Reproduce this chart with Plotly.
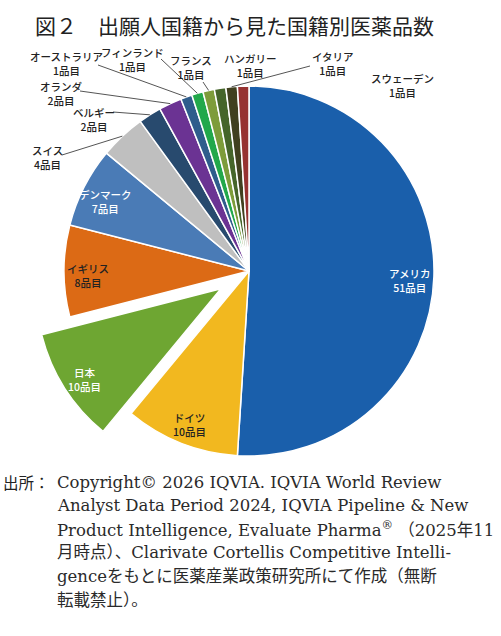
import math
import plotly.graph_objects as go

countries = ["アメリカ", "ドイツ", "日本", "イギリス", "デンマーク", "スイス", "ベルギー",
             "オランダ", "オーストラリア", "フィンランド", "フランス", "ハンガリー", "イタリア", "スウェーデン"]
counts = [51, 10, 10, 8, 7, 4, 2, 2, 1, 1, 1, 1, 1, 1]
pulls = [0, 0, 0.18, 0, 0, 0, 0, 0, 0, 0, 0, 0, 0, 0]

colors = ["#1a5fab", "#f2b81f", "#6ea632", "#dc6a15", "#4a7bb6", "#bfbfbf", "#284a6e",
          "#6b3393", "#2f5d8c", "#22a84b", "#7d9c3a", "#45652a", "#40401f", "#963231"]
inside_font_colors = ["white", "#222", "white", "#222", "white"]

title = "図２　出願人国籍から見た国籍別医薬品数"
source_head = "出所："
source_lines = [
    "Copyright© 2026 IQVIA. IQVIA World Review",
    "Analyst Data Period 2024, IQVIA Pipeline &amp; New",
    "Product Intelligence, Evaluate Pharma<sup>®</sup> （2025年11",
    "月時点）、Clarivate Cortellis Competitive Intelli-",
    "genceをもとに医薬産業政策研究所にて作成（無断",
    "転載禁止）。",
]

W, H = 501, 636
cx, cy, R = 249, 271, 185
half = R * (1 + max(pulls))

# label placement for the small slices: (label x, label y, leader start or None)
outside_pos = {
    "スイス": (47, 157, (62, 155)),
    "ベルギー": (94, 120, (113, 112)),
    "オランダ": (61, 93, (80, 91)),
    "オーストラリア": (66, 64, (98, 65)),
    "フィンランド": (132, 60, (161, 59)),
    "フランス": (191, 67, (203, 82)),
    "ハンガリー": (250, 65, None),
    "イタリア": (333, 64, (310, 66)),
    "スウェーデン": (402, 86, None),
}
label_font = dict(size=10.5, family="Noto Sans CJK JP", weight=500)


def px(x, y):
    return x / W, 1 - y / H


def note(x, y, text, font, xanchor="center"):
    fx, fy = px(x, y)
    return dict(x=fx, y=fy, xref="paper", yref="paper", text=text, showarrow=False,
                xanchor=xanchor, yanchor="middle", font=font)


fig = go.Figure(go.Pie(
    labels=countries,
    values=counts,
    pull=pulls,
    sort=False,
    direction="clockwise",
    rotation=0,
    textinfo="none",
    hoverinfo="label+value",
    marker=dict(colors=colors, line=dict(color="white", width=1.5)),
    domain=dict(x=[(cx - half) / W, (cx + half) / W], y=[1 - (cy + half) / H, 1 - (cy - half) / H]),
    showlegend=False,
))

total = sum(counts)
cum = 0
annotations = []
shapes = []
for i, (name, v) in enumerate(zip(countries, counts)):
    mid = 2 * math.pi * (cum + v / 2) / total
    cum += v
    s, c = math.sin(mid), math.cos(mid)
    ox, oy = cx + pulls[i] * R * s, cy - pulls[i] * R * c
    text = f"{name}<br>{v}品目"
    if name in outside_pos:
        lx, ly, start = outside_pos[name]
        annotations.append(note(lx, ly, text, dict(label_font, color="#222")))
        if start:
            x0, y0 = px(*start)
            x1, y1 = px(ox + R * s, oy - R * c)
            shapes.append(dict(type="line", xref="paper", yref="paper", x0=x0, y0=y0, x1=x1, y1=y1,
                               line=dict(color="#555", width=1)))
    else:
        annotations.append(note(ox + 0.87 * R * s, oy - 0.87 * R * c + 4, text,
                                dict(label_font, color=inside_font_colors[i])))

annotations.append(note(33, 25, title, dict(size=21, color="#222", family="Noto Sans CJK JP"), "left"))
annotations.append(note(1, 482, source_head, dict(size=15.5, color="#222", family="Noto Sans CJK JP"), "left"))
for k, line in enumerate(source_lines):
    annotations.append(note(55, 482 + 23.6 * k, line,
                            dict(size=16.5, color="#2a2a2a", family="DejaVu Serif, Noto Sans CJK JP"), "left"))

fig.update_layout(
    width=W, height=H,
    margin=dict(l=0, r=0, t=0, b=0),
    paper_bgcolor="white",
    plot_bgcolor="white",
    annotations=annotations,
    shapes=shapes,
)
fig.write_html("out.html", config={"displayModeBar": False},
               post_script="document.body.style.margin = '0px';")
